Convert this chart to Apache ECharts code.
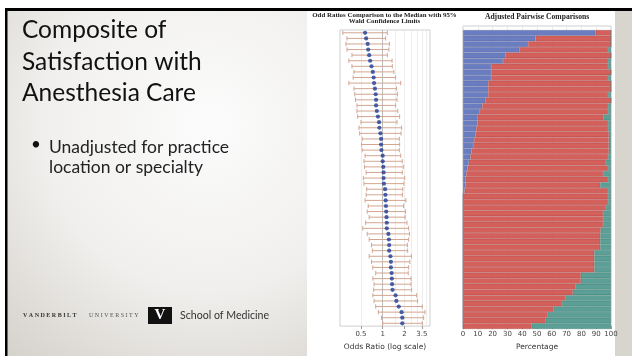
<!DOCTYPE html>
<html><head><meta charset="utf-8">
<script src="https://cdn.jsdelivr.net/npm/echarts@6/dist/echarts.min.js"></script>
<style>html,body{margin:0;padding:0;background:#fff;}#c{width:632px;height:356px;}</style>
</head><body><div id="c"></div>
<script>
// ---- Data ----
const practitioners = Array.from({length: 53}, (_, i) => 'Provider ' + (i + 1));
const orEstimate = [0.57,0.59,0.62,0.63,0.65,0.67,0.70,0.73,0.75,0.76,
  0.78,0.80,0.81,0.81,0.83,0.86,0.89,0.90,0.93,0.95,
  0.95,0.96,1.00,1.00,1.02,1.03,1.03,1.04,1.08,1.09,
  1.10,1.11,1.12,1.13,1.14,1.14,1.20,1.22,1.23,1.23,
  1.28,1.30,1.30,1.33,1.34,1.35,1.37,1.51,1.55,1.67,
  1.83,1.87,1.87];
const orLower = [0.28,0.32,0.31,0.32,0.375,0.34,0.375,0.40,0.39,0.34,
  0.40,0.41,0.42,0.44,0.44,0.45,0.50,0.47,0.48,0.52,
  0.51,0.52,0.57,0.55,0.56,0.59,0.54,0.55,0.60,0.59,
  0.57,0.63,0.61,0.65,0.58,0.53,0.61,0.65,0.70,0.72,
  0.65,0.70,0.73,0.80,0.73,0.76,0.75,0.73,0.76,0.80,
  0.87,0.96,1.00];
const orUpper = [1.16,1.10,1.24,1.22,1.16,1.35,1.36,1.43,1.51,1.78,
  1.56,1.60,1.58,1.51,1.62,1.72,1.58,1.83,1.80,1.70,
  1.72,1.70,1.78,1.87,1.93,1.87,2.02,1.97,1.90,1.88,
  2.10,1.95,2.08,2.05,2.17,2.29,2.35,2.29,2.20,2.22,
  2.50,2.38,2.29,2.26,2.47,2.47,2.52,2.96,3.05,3.54,
  3.86,3.70,3.54];
const orTickLabels = [0.5, 1, 2, 3.5];
const orGridValues = [0.5, 1.5, 2, 2.5, 3, 3.5, 4];

const pctBlue = [89.7,49,44,38,28.5,27,19,19,19,17,
  17,17,15,13,11.4,10,9.8,9,8.4,7.5,
  6.8,5.7,5,3.9,3,2.3,1.8,1.6,1.1,0,
  0,0,0,0,0,0,0,0,0,0,
  0,0,0,0,0,0,0,0,0,0,
  0,0,0];
const pctRed = [10.3,51,56,60,71.5,71,79,81,79,83,
  83,81,85,85,86.6,84.7,88.2,89,90.1,91,
  91.7,92.8,93,92.7,95,92.3,96.2,91.1,96.9,98,
  98,96.6,94.6,94.6,94.6,93,92.7,92.7,92.7,88.8,
  88.8,88.8,88.8,79.6,79.6,75.8,74.2,69,66.9,61.2,
  57.3,55.9,46.3];
const pctTeal = [0,0,0,2,0,2,2,0,2,0,
  0,2,0,2,2,5.3,2,2,1.5,1.5,
  1.5,1.5,2,3.4,2,5.4,2,7.3,2,2,
  2,3.4,5.4,5.4,5.4,7,7.3,7.3,7.3,11.2,
  11.2,11.2,11.2,20.4,20.4,24.2,25.8,31,33.1,38.8,
  42.7,44.1,53.7];

// ---- Styles ----
const WHISKER = '#d2a590';
const POINT = '#1b3c97';
const BLUE = '#6b7dc1', RED = '#d4605c', TEAL = '#5c9f96';

const chart = echarts.init(document.getElementById('c'), null, {renderer: 'canvas'});

const gridLines = orGridValues.map(v => ({xAxis: v}));
gridLines.push({xAxis: 1, lineStyle: {color: '#bdbdbd', width: 1}});

const option = {
  animation: false,
  backgroundColor: {type: 'radial', x: 0.33, y: 0.35, r: 0.85,
    colorStops: [{offset: 0, color: '#fcfcfc'}, {offset: 0.55, color: '#f0efed'}, {offset: 1, color: '#d6d2cc'}]},
  graphic: {elements: [
    {type: 'rect', z: -10, shape: {x: 0, y: 0, width: 632, height: 8}, style: {fill: '#ffffff'}},
    {type: 'rect', z: -10, shape: {x: 0, y: 0, width: 5, height: 356}, style: {fill: '#ffffff'}},
    {type: 'rect', z: -9, shape: {x: 615, y: 11, width: 17, height: 345}, style: {fill: '#d8d4ce'}},
    {type: 'rect', z: -9, shape: {x: 307, y: 11, width: 308, height: 345}, style: {fill: '#ffffff'}},
    {type: 'rect', z: 5, shape: {x: 5, y: 8, width: 627, height: 3}, style: {fill: '#000'}},
    {type: 'rect', z: 5, shape: {x: 5, y: 8, width: 2.5, height: 348}, style: {fill: '#000'}},
    // slide text
    {type: 'text', z: 5, style: {text: 'Composite of', x: 22, y: 30.5, fill: '#111', font: '24.5px Lato', verticalAlign: 'middle'}},
    {type: 'text', z: 5, style: {text: 'Satisfaction with', x: 22, y: 62, fill: '#111', font: '24.5px Lato', verticalAlign: 'middle'}},
    {type: 'text', z: 5, style: {text: 'Anesthesia Care', x: 22, y: 93.5, fill: '#111', font: '24.5px Lato', verticalAlign: 'middle'}},
    {type: 'text', z: 5, style: {text: '\u2022', x: 31, y: 145, fill: '#111', font: '17px Lato', verticalAlign: 'middle'}},
    {type: 'text', z: 5, style: {text: 'Unadjusted for practice', x: 49, y: 147, fill: '#222', font: '17.5px Lato', verticalAlign: 'middle'}},
    {type: 'text', z: 5, style: {text: 'location or specialty', x: 49, y: 167.5, fill: '#222', font: '17.5px Lato', verticalAlign: 'middle'}},
    // footer
    {type: 'text', z: 5, style: {text: 'V A N D E R B I L T', x: 23, y: 315.5, fill: '#333', font: 'bold 6px "Liberation Serif"', verticalAlign: 'middle'}},
    {type: 'text', z: 5, style: {text: 'U N I V E R S I T Y', x: 89, y: 315.5, fill: '#555', font: '6px "Liberation Serif"', verticalAlign: 'middle'}},
    {type: 'rect', z: 5, shape: {x: 148, y: 307, width: 24, height: 17}, style: {fill: '#111'}},
    {type: 'text', z: 6, style: {text: 'V', x: 160, y: 315.5, fill: '#fff', font: 'bold 15px "Liberation Serif"', align: 'center', verticalAlign: 'middle'}},
    {type: 'text', z: 5, style: {text: 'School of Medicine', x: 180, y: 315.5, fill: '#333', font: '10.6px Lato', verticalAlign: 'middle'}},
    // chart titles
    {type: 'text', z: 5, style: {text: 'Odd Ratios Comparison to the Median with 95%', x: 384.5, y: 15, fill: '#222', font: 'bold 6.9px "Liberation Serif"', align: 'center', verticalAlign: 'middle'}},
    {type: 'text', z: 5, style: {text: 'Wald Confidence Limits', x: 384.5, y: 21.5, fill: '#222', font: 'bold 6.9px "Liberation Serif"', align: 'center', verticalAlign: 'middle'}},
    {type: 'text', z: 5, style: {text: 'Adjusted Pairwise Comparisons', x: 537, y: 17, fill: '#222', font: 'bold 7.6px "Liberation Serif"', align: 'center', verticalAlign: 'middle'}}
  ]},
  grid: [
    {left: 340, width: 90, top: 30, height: 302, show: true, backgroundColor: '#fff', borderColor: '#cfcfcf', borderWidth: 1},
    {left: 463, width: 148, top: 26, height: 306, show: true, backgroundColor: '#fff', borderColor: '#cfcfcf', borderWidth: 1},
    {left: 463, width: 148, top: 30, height: 299}
  ],
  xAxis: [
    {gridIndex: 0, type: 'log', logBase: 2, min: 0.256, max: 4.53,
      axisLine: {show: false},
      axisTick: {show: true, customValues: orTickLabels, length: 3, lineStyle: {color: '#999'}},
      axisLabel: {customValues: orTickLabels, fontSize: 7, color: '#444', margin: 5, fontFamily: 'DejaVu Sans'},
      splitLine: {show: false},
      name: 'Odds Ratio (log scale)', nameLocation: 'middle', nameGap: 14,
      nameTextStyle: {fontSize: 7.5, color: '#333', fontFamily: 'DejaVu Sans'}},
    {gridIndex: 1, type: 'value', min: 0, max: 100, interval: 10,
      axisLine: {show: true, lineStyle: {color: '#bbb'}},
      axisTick: {show: true, length: 3, lineStyle: {color: '#999'}},
      axisLabel: {fontSize: 7, color: '#444', margin: 5, fontFamily: 'DejaVu Sans'},
      splitLine: {show: true, lineStyle: {color: '#e4e4e4', width: 0.8}},
      name: 'Percentage', nameLocation: 'middle', nameGap: 16,
      nameTextStyle: {fontSize: 7.5, color: '#333', fontFamily: 'DejaVu Sans'}},
    {gridIndex: 2, type: 'value', min: 0, max: 100, show: false}
  ],
  yAxis: [
    {gridIndex: 0, type: 'category', data: practitioners, inverse: true, show: false},
    {gridIndex: 1, type: 'value', min: 0, max: 1, show: false},
    {gridIndex: 2, type: 'category', data: practitioners, inverse: true, show: false}
  ],
  series: [
    {type: 'custom', xAxisIndex: 0, yAxisIndex: 0, z: 3,
      data: orLower.map((lo, i) => [lo, orUpper[i], i]),
      encode: {x: [0, 1], y: 2},
      renderItem: function (params, api) {
        const a = api.coord([api.value(0), api.value(2)]);
        const b = api.coord([api.value(1), api.value(2)]);
        const st = {stroke: WHISKER, lineWidth: 1};
        const h = 2.2;
        return {type: 'group', children: [
          {type: 'line', shape: {x1: a[0], y1: a[1], x2: b[0], y2: b[1]}, style: st},
          {type: 'line', shape: {x1: a[0], y1: a[1] - h, x2: a[0], y2: a[1] + h}, style: st},
          {type: 'line', shape: {x1: b[0], y1: b[1] - h, x2: b[0], y2: b[1] + h}, style: st}
        ]};
      }
    },
    {type: 'scatter', xAxisIndex: 0, yAxisIndex: 0, z: 4, symbol: 'circle', symbolSize: 4.2,
      itemStyle: {color: POINT}, data: orEstimate.map((v, i) => [v, i]),
      markLine: {silent: true, symbol: 'none', label: {show: false}, z: 1,
        lineStyle: {color: '#e8e8e8', width: 0.8, type: 'solid'}, data: gridLines}},
    {type: 'bar', name: 'Lower', xAxisIndex: 2, yAxisIndex: 2, stack: 'p', barCategoryGap: '0%',
      itemStyle: {color: BLUE, borderColor: 'rgba(60,70,120,0.45)', borderWidth: 0.5}, data: pctBlue},
    {type: 'bar', name: 'Not different', xAxisIndex: 2, yAxisIndex: 2, stack: 'p', barCategoryGap: '0%',
      itemStyle: {color: RED, borderColor: 'rgba(150,50,48,0.55)', borderWidth: 0.5}, data: pctRed},
    {type: 'bar', name: 'Higher', xAxisIndex: 2, yAxisIndex: 2, stack: 'p', barCategoryGap: '0%',
      itemStyle: {color: TEAL, borderColor: 'rgba(40,100,92,0.6)', borderWidth: 0.5}, data: pctTeal}
  ]
};
chart.setOption(option);
</script></body></html>
